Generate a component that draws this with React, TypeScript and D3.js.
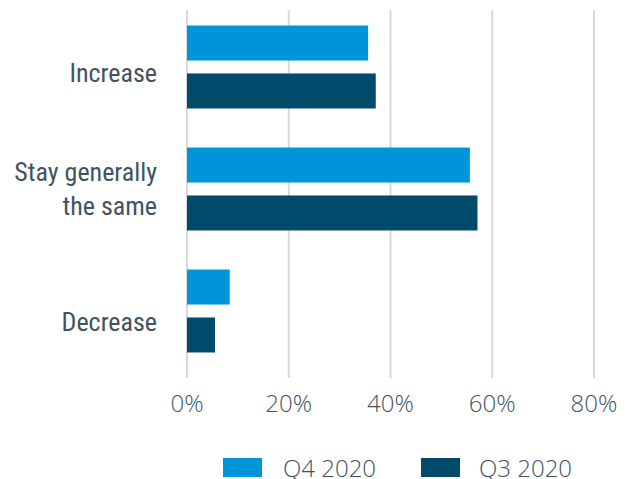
import React from "react";
import * as d3 from "d3";

const categories = ["Increase", "Stay generally|the same", "Decrease"];
const seriesNames = ["Q4 2020", "Q3 2020"];
const q4Values = [35.6, 55.6, 8.4];
const q3Values = [37.1, 57.1, 5.5];
const xTicks = [0, 20, 40, 60, 80];
const colors = ["#0095D9", "#004B6B"];

const W = 630;
const H = 479;
const textColor = "#415361";
const labelFont = "'Liberation Sans Narrow', 'Roboto Condensed', Roboto, sans-serif";
const tickFont = "'Open Sans', 'Noto Sans', sans-serif";
const labelNudge = [6, 0, 11];

export default function App() {
  const x = d3.scaleLinear().domain([0, 80]).range([187, 594]);
  const y = d3.scaleBand<string>().domain(categories).range([6, 372]).paddingInner(0.32).paddingOuter(0.16);
  const inner = d3.scaleBand<string>().domain(seriesNames).range([0, y.bandwidth()]).paddingInner(0.27);
  const series = [q4Values, q3Values];

  return (
    <svg width={W} height={H} style={{ position: "absolute", left: 0, top: 0 }}>
      <rect width={W} height={H} fill="#fff" />
      {xTicks.map((t) => (
        <g key={t}>
          <line x1={x(t)} x2={x(t)} y1={10} y2={378} stroke="#d9d9d9" strokeWidth={2} />
          <text x={x(t)} y={412} textAnchor="middle" fontFamily={tickFont} fontWeight={300} fontSize={24} fill={textColor}>
            {t}%
          </text>
        </g>
      ))}
      {categories.map((c, i) => (
        <g key={c}>
          {series.map((vals, s) => (
            <rect
              key={s}
              x={x(0)}
              y={(y(c) as number) + (inner(seriesNames[s]) as number)}
              width={x(vals[i]) - x(0)}
              height={inner.bandwidth()}
              fill={colors[s]}
            />
          ))}
          {(() => {
            const lines = c.split("|");
            const cy = (y(c) as number) + y.bandwidth() / 2;
            const lh = 33.5;
            const start = cy - ((lines.length - 1) * lh) / 2 + 9 + labelNudge[i];
            return lines.map((l, k) => (
              <text key={k} x={157} y={start + k * lh} textAnchor="end" fontFamily={labelFont} fontSize={26} fill={textColor}>
                {l}
              </text>
            ));
          })()}
        </g>
      ))}
      {seriesNames.map((n, s) => (
        <g key={n}>
          <rect x={223 + s * 198} y={458} width={39} height={19} fill={colors[s]} />
          <text x={283 + s * 196} y={476.5} fontFamily={tickFont} fontWeight={300} fontSize={24} fill={textColor}>
            {n}
          </text>
        </g>
      ))}
    </svg>
  );
}
